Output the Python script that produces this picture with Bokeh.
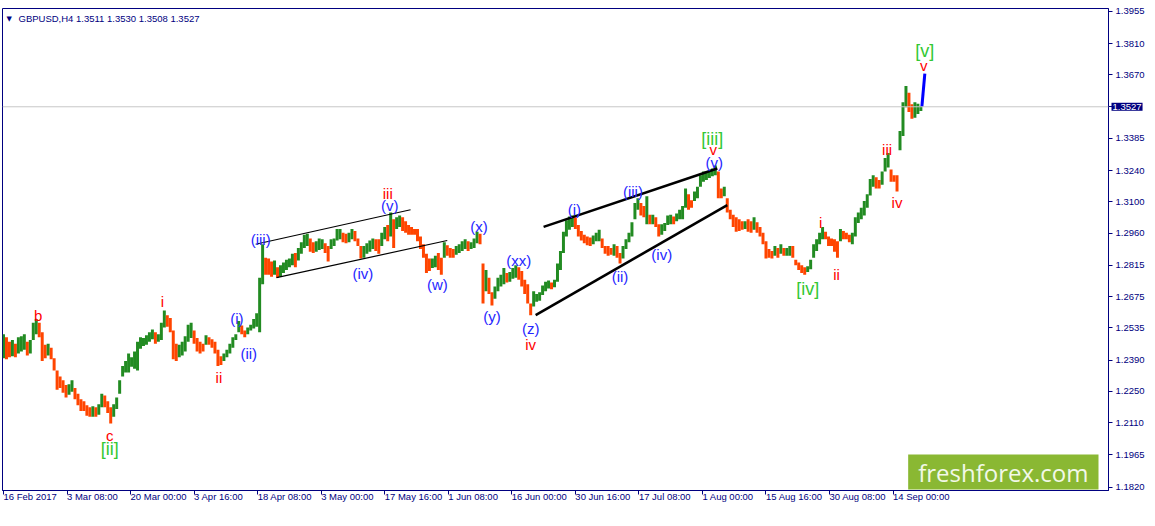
from bokeh.plotting import figure
from bokeh.models import FixedTicker, Label, Span, Range1d, ColumnDataSource
from bokeh.core.properties import value
from bokeh.embed import file_html
from bokeh.resources import INLINE

# ---- data: GBPUSD H4, one entry per 3 bars (high / low) ----
highs = [
 1.2506,1.2493,1.2472,1.2480,1.2463,1.2493,1.2497,1.2506,1.2472,1.2480,
 1.2558,1.2575,1.2558,1.2515,1.2459,1.2463,1.2446,1.2398,1.2343,1.2317,
 1.2300,1.2278,1.2282,1.2300,1.2265,1.2239,1.2214,1.2205,1.2188,1.2179,
 1.2183,1.2179,1.2192,1.2239,1.2231,1.2205,1.2179,1.2192,1.2222,1.2300,
 1.2364,1.2386,1.2420,1.2403,1.2429,1.2472,1.2493,1.2489,1.2502,1.2515,
 1.2527,1.2515,1.2506,1.2558,1.2613,1.2592,1.2579,1.2523,1.2463,1.2459,
 1.2472,1.2497,1.2549,1.2558,1.2523,1.2489,1.2472,1.2463,1.2502,1.2493,
 1.2484,1.2472,1.2437,1.2407,1.2420,1.2437,1.2463,1.2493,1.2506,1.2566,
 1.2545,1.2523,1.2536,1.2549,1.2575,1.2600,1.2760,1.2910,1.2850,1.2846,
 1.2833,1.2837,1.2807,1.2816,1.2828,1.2841,1.2846,1.2867,1.2871,1.2893,
 1.2919,1.2953,1.2957,1.2936,1.2919,1.2923,1.2936,1.2932,1.2914,1.2902,
 1.2932,1.2936,1.2979,1.2979,1.2962,1.2957,1.2962,1.2979,1.2970,1.2936,
 1.2902,1.2902,1.2914,1.2927,1.2936,1.2932,1.2932,1.2962,1.2988,1.2996,
 1.3052,1.3022,1.3031,1.3039,1.3031,1.3013,1.2996,1.2988,1.2979,1.2979,
 1.2945,1.2910,1.2867,1.2846,1.2846,1.2859,1.2871,1.2850,1.2919,1.2906,
 1.2893,1.2889,1.2902,1.2910,1.2923,1.2932,1.2923,1.2919,1.2936,1.2966,
 1.2957,1.2824,1.2794,1.2760,1.2695,1.2721,1.2760,1.2773,1.2803,1.2781,
 1.2785,1.2803,1.2816,1.2807,1.2790,1.2751,1.2730,1.2644,1.2699,1.2687,
 1.2695,1.2725,1.2742,1.2747,1.2738,1.2751,1.2824,1.2880,1.2966,1.3018,
 1.3035,1.3039,1.3031,1.2996,1.2970,1.2953,1.2945,1.2940,1.2949,1.2962,
 1.2975,1.2936,1.2902,1.2902,1.2893,1.2910,1.2902,1.2871,1.2902,1.2932,
 1.2962,1.3009,1.3095,1.3117,1.3095,1.3082,1.3125,1.3043,1.3043,1.3031,
 1.3000,1.3000,1.3005,1.3039,1.3043,1.3035,1.3048,1.3065,1.3082,1.3160,
 1.3134,1.3108,1.3147,1.3168,1.3220,1.3237,1.3237,1.3241,1.3250,1.3263,
 1.3237,1.3160,1.3168,1.3117,1.3065,1.3043,1.3031,1.3022,1.3013,1.3013,
 1.3022,1.3013,1.3031,1.3009,1.2988,1.2962,1.2923,1.2889,1.2880,1.2902,
 1.2893,1.2910,1.2893,1.2893,1.2902,1.2902,1.2841,1.2828,1.2816,1.2807,
 1.2811,1.2841,1.2910,1.2932,1.2962,1.2988,1.2966,1.2945,1.2936,1.2932,
 1.2923,1.2979,1.2970,1.2962,1.2953,1.2962,1.3031,1.3052,1.3074,1.3104,
 1.3134,1.3203,1.3220,1.3211,1.3198,1.3237,1.3297,1.3319,1.3246,1.3220,
 1.3220,1.3418,1.3547,1.3620,1.3590,1.3538,1.3547,1.3540,1.3530]
lows = [
 1.2398,1.2394,1.2403,1.2407,1.2403,1.2420,1.2429,1.2437,1.2411,1.2420,
 1.2480,1.2506,1.2493,1.2386,1.2398,1.2411,1.2394,1.2343,1.2257,1.2265,
 1.2244,1.2222,1.2235,1.2248,1.2214,1.2188,1.2162,1.2162,1.2140,1.2136,
 1.2136,1.2136,1.2145,1.2179,1.2179,1.2153,1.2106,1.2136,1.2171,1.2239,
 1.2317,1.2334,1.2334,1.2360,1.2351,1.2343,1.2441,1.2454,1.2459,1.2472,
 1.2484,1.2463,1.2472,1.2480,1.2536,1.2540,1.2515,1.2394,1.2386,1.2403,
 1.2411,1.2429,1.2472,1.2489,1.2463,1.2429,1.2420,1.2429,1.2459,1.2459,
 1.2446,1.2420,1.2364,1.2368,1.2386,1.2403,1.2420,1.2446,1.2480,1.2515,
 1.2506,1.2493,1.2506,1.2523,1.2532,1.2540,1.2515,1.2730,1.2773,1.2773,
 1.2764,1.2773,1.2760,1.2764,1.2781,1.2794,1.2807,1.2816,1.2807,1.2837,
 1.2867,1.2893,1.2902,1.2876,1.2871,1.2876,1.2884,1.2889,1.2871,1.2833,
 1.2889,1.2902,1.2927,1.2932,1.2919,1.2914,1.2919,1.2932,1.2923,1.2902,
 1.2846,1.2850,1.2867,1.2876,1.2889,1.2880,1.2867,1.2902,1.2932,1.2923,
 1.2945,1.2893,1.2979,1.2988,1.2970,1.2962,1.2953,1.2953,1.2953,1.2923,
 1.2889,1.2850,1.2781,1.2790,1.2803,1.2807,1.2794,1.2773,1.2850,1.2859,
 1.2850,1.2850,1.2863,1.2871,1.2880,1.2889,1.2880,1.2889,1.2893,1.2914,
 1.2910,1.2644,1.2699,1.2687,1.2635,1.2665,1.2699,1.2721,1.2730,1.2738,
 1.2742,1.2755,1.2760,1.2751,1.2721,1.2687,1.2644,1.2592,1.2631,1.2652,
 1.2656,1.2682,1.2699,1.2712,1.2708,1.2717,1.2742,1.2794,1.2871,1.2945,
 1.2975,1.2988,1.2979,1.2945,1.2927,1.2914,1.2906,1.2902,1.2910,1.2923,
 1.2923,1.2893,1.2867,1.2859,1.2863,1.2859,1.2850,1.2824,1.2846,1.2889,
 1.2919,1.2945,1.3022,1.3065,1.3039,1.3031,1.3000,1.3000,1.3000,1.2988,
 1.2945,1.2953,1.2970,1.2996,1.3000,1.3000,1.3013,1.3022,1.3022,1.3074,
 1.3065,1.3074,1.3104,1.3117,1.3168,1.3190,1.3198,1.3207,1.3215,1.3220,
 1.3117,1.3117,1.3125,1.3052,1.3022,1.2988,1.2966,1.2970,1.2975,1.2979,
 1.2966,1.2962,1.2975,1.2962,1.2945,1.2910,1.2846,1.2850,1.2846,1.2859,
 1.2850,1.2867,1.2859,1.2859,1.2859,1.2850,1.2816,1.2794,1.2781,1.2773,
 1.2785,1.2798,1.2850,1.2880,1.2910,1.2932,1.2932,1.2902,1.2902,1.2876,
 1.2850,1.2923,1.2932,1.2932,1.2919,1.2910,1.2945,1.3005,1.3022,1.3039,
 1.3074,1.3129,1.3168,1.3160,1.3160,1.3177,1.3237,1.3254,1.3190,1.3190,
 1.3147,1.3332,1.3396,1.3525,1.3504,1.3473,1.3478,1.3495,1.3508]
bars_per_entry = 3

last_ohlc = [1.3511, 1.3530, 1.3508, 1.3527]

date_labels = ["16 Feb 2017", "3 Mar 08:00", "20 Mar 00:00", "3 Apr 16:00",
               "18 Apr 08:00", "3 May 00:00", "17 May 16:00", "1 Jun 08:00",
               "16 Jun 00:00", "30 Jun 16:00", "17 Jul 08:00", "1 Aug 00:00",
               "15 Aug 16:00", "30 Aug 08:00", "14 Sep 00:00"]
date_bars = [0, 64, 128, 192, 256, 320, 384, 448, 512, 576, 640, 704, 768, 832, 896]

price_ticks = [1.3955, 1.3810, 1.3670, 1.3385, 1.3240, 1.3100, 1.2960, 1.2815,
               1.2675, 1.2535, 1.2390, 1.2250, 1.2110, 1.1965, 1.1820]

wave_text = ["b", "c", "[ii]", "i", "ii", "(i)", "(ii)", "(iii)", "(iv)", "(v)", "iii",
             "(w)", "(x)", "(y)", "(xx)", "(z)", "iv", "(i)", "(ii)", "(iii)", "(iv)",
             "(v)", "v", "[iii]", "[iv]", "i", "ii", "iii", "iv", "v", "[v]"]
wave_bar = [35, 107, 107, 160, 217, 235, 247, 259, 362, 389, 387,
            437, 479, 492, 519, 531, 531, 575, 621, 634, 663,
            716, 715, 714, 810, 823, 839, 890, 900, 927, 928]
wave_price = [1.2592, 1.2054, 1.1990, 1.2652, 1.2312, 1.2579, 1.2420, 1.2932, 1.2781, 1.3082, 1.3138,
              1.2730, 1.2988, 1.2588, 1.2837, 1.2532, 1.2459, 1.3065, 1.2764, 1.3147, 1.2863,
              1.3276, 1.3336, 1.3383, 1.2708, 1.3009, 1.2773, 1.3336, 1.3099, 1.3710, 1.3779]
wave_degree = ["minor", "minor", "inter", "minor", "minor", "minute", "minute", "minute", "minute", "minute", "minor",
               "minute", "minute", "minute", "minute", "minute", "minor", "minute", "minute", "minute", "minute",
               "minute", "minor", "inter", "inter", "minor", "minor", "minor", "minor", "minor", "inter"]

# trend / channel lines: (bar0, price0, bar1, price1)
channel_bar0 = [254, 275]
channel_p0 = [1.2910, 1.2760]
channel_bar1 = [410, 447]
channel_p1 = [1.3065, 1.2927]
wedge_bar0 = [544, 536]
wedge_p0 = [1.2988, 1.2592]
wedge_bar1 = [719, 729]
wedge_p1 = [1.3250, 1.3086]

proj_bars = [925, 928]
proj_prices = [1.3527, 1.3676]

# ---- styling ----
NAVY = "#000080"
UP = "#228B22"
DOWN = "#FF4500"
deg_color = {"minor": "#FF0000", "minute": "#2626FF", "inter": "#33C833"}
deg_size = {"minor": "15px", "minute": "15px", "inter": "18px"}
AX_FONT = "Liberation Sans"

xs = [i * bars_per_entry for i in range(len(highs))]
mids = [(h + l) / 2 for h, l in zip(highs, lows)]
colors = [UP] + [UP if mids[i] >= mids[i - 1] else DOWN for i in range(1, len(mids))]
src = ColumnDataSource(dict(x=xs, top=highs, bottom=lows, color=colors))

p = figure(width=1147, height=510, output_backend="svg", toolbar_location=None,
           x_range=Range1d(-1, 1113), y_range=Range1d(1.1805, 1.3968),
           y_axis_location="right", min_border_left=2, min_border_top=3,
           min_border_bottom=16, min_border_right=0)
p.grid.visible = False
p.background_fill_color = "white"
p.border_fill_color = "white"
p.outline_line_color = NAVY
p.outline_line_width = 1

# price axis
p.yaxis.ticker = FixedTicker(ticks=price_ticks + [last_ohlc[3]])
labels = {t: f"{t:.4f}" for t in price_ticks}
labels[last_ohlc[3]] = ""
p.yaxis.major_label_overrides = labels
p.yaxis.axis_line_color = NAVY
p.yaxis.major_tick_line_color = NAVY
p.yaxis.major_tick_out = 4
p.yaxis.major_tick_in = 0
p.yaxis.minor_tick_line_color = None
p.yaxis.major_label_text_color = NAVY
p.yaxis.major_label_text_font = AX_FONT
p.yaxis.major_label_text_font_size = "9.5px"
p.yaxis.major_label_standoff = 3

# time axis, labels start at their tick
p.xaxis.ticker = FixedTicker(ticks=date_bars)
p.xaxis.major_label_overrides = dict(zip(date_bars, date_labels))
p.xaxis.major_label_orientation = -0.0001
p.xaxis.axis_line_color = NAVY
p.xaxis.major_tick_line_color = NAVY
p.xaxis.major_tick_out = 4
p.xaxis.major_tick_in = 0
p.xaxis.minor_tick_line_color = None
p.xaxis.major_label_text_color = NAVY
p.xaxis.major_label_text_font = AX_FONT
p.xaxis.major_label_text_font_size = "9.5px"
p.xaxis.major_label_standoff = 2

# current price line
p.add_layout(Span(location=last_ohlc[3], dimension="width", line_color="#C8C8C8", line_width=1))

# bars
p.vbar(x="x", top="top", bottom="bottom", width=3.0, fill_color="color",
       line_color=None, source=src)

# channel lines
p.segment(x0=channel_bar0, y0=channel_p0, x1=channel_bar1, y1=channel_p1,
          line_color="black", line_width=1.2)
p.segment(x0=wedge_bar0, y0=wedge_p0, x1=wedge_bar1, y1=wedge_p1,
          line_color="black", line_width=2.6)

# projection
p.line(proj_bars, proj_prices, line_color="#0000FF", line_width=3)

# wave labels
wsrc = ColumnDataSource(dict(x=wave_bar, y=wave_price, text=wave_text,
                             color=[deg_color[d] for d in wave_degree],
                             size=[deg_size[d] for d in wave_degree]))
p.text(x="x", y="y", text="text", text_color="color", text_font_size="size",
       text_font=value(AX_FONT), text_align="center", text_baseline="middle",
       source=wsrc)

# header
p.add_layout(Label(x=-1, y=1.3968, x_offset=4, y_offset=-6, text="\u25BC",
                   text_align="left", text_baseline="top", text_color=NAVY,
                   text_font="DejaVu Sans", text_font_size="7px"))
p.add_layout(Label(x=-1, y=1.3968, x_offset=16, y_offset=-4,
                   text="GBPUSD,H4  " + " ".join(f"{v:.4f}" for v in last_ohlc),
                   text_align="left", text_baseline="top", text_color=NAVY,
                   text_font=AX_FONT, text_font_size="9.5px"))

# current price box on the price axis (side panel so it is not clipped)
p.add_layout(Label(x=1113, y=last_ohlc[3], x_offset=3, text=f"{last_ohlc[3]:.4f}",
                   text_align="left", text_baseline="middle", text_color="white",
                   background_fill_color=NAVY, text_font=AX_FONT,
                   text_font_size="9.5px", padding=1), "above")

# logo
p.add_layout(Label(x=1113, y=1.1805, x_offset=-10, y_offset=1, text="freshforex.com",
                   text_align="right", text_baseline="bottom", text_color="#F2F8E8",
                   background_fill_color="#8AB833", text_font="Open Sans",
                   text_font_size="24px", padding=(10, 1)))

open("out.html", "w").write(file_html(p, INLINE))
